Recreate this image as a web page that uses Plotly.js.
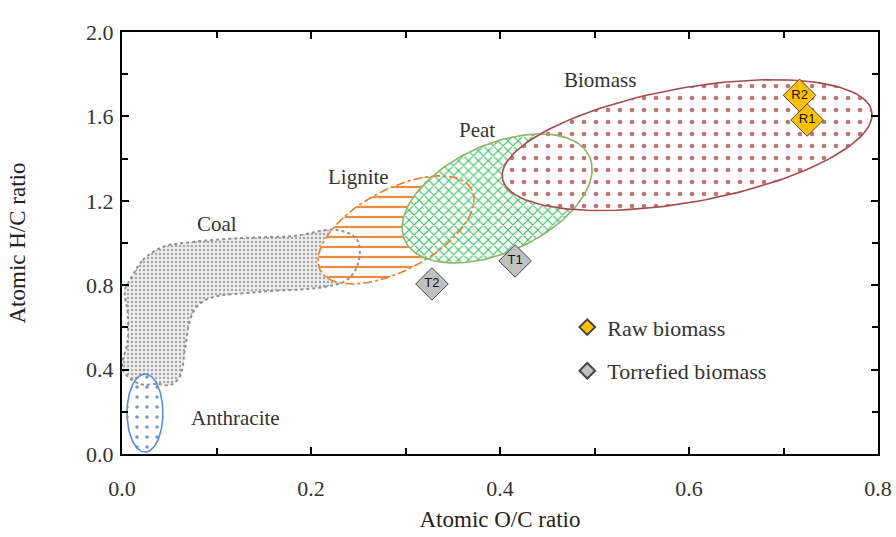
<!DOCTYPE html>
<html>
<head>
<meta charset="utf-8">
<script src="https://cdn.plot.ly/plotly-3.0.1.min.js"></script>
<style>html,body{margin:0;padding:0;background:#fff;}#chart{width:896px;height:537px;}</style>
</head>
<body>
<div id="chart"></div>
<script>
// ---- data ----
const rawLabels = ["R1", "R2"];
const rawOC = [0.725, 0.717];
const rawHC = [1.583, 1.700];
const torLabels = ["T1", "T2"];
const torOC = [0.416, 0.328];
const torHC = [0.915, 0.806];

// elliptical regions: centre (O/C, H/C), semi-axes (in O/C units), tilt (deg)
const ellNames = ["Anthracite", "Lignite", "Peat", "Biomass"];
const ellCX = [0.0243, 0.290, 0.397, 0.598];
const ellCY = [0.194, 1.062, 1.211, 1.464];
const ellA = [0.0413, 0.0908, 0.1073, 0.1986];
const ellB = [0.0190, 0.0429, 0.0570, 0.0604];
const ellTilt = [90, 28.2, 24.4, 10.3];

// coal band outline
const coalOC = [0.0085,0.022,0.043,0.075,0.128,0.181,0.228,0.249,0.250,0.238,0.213,0.146,0.093,0.079,0.072,0.067,0.061,0.051,0.037,0.019,0.001,0.006,0.006,0.003];
const coalHC = [0.825,0.919,0.981,1.005,1.024,1.033,1.062,1.014,0.905,0.825,0.791,0.768,0.739,0.697,0.635,0.507,0.365,0.327,0.332,0.332,0.398,0.540,0.668,0.777];

// region label positions
const labelText = ["Biomass", "Peat", "Lignite", "Coal", "Anthracite"];
const labelOC = [0.506, 0.376, 0.250, 0.1005, 0.1196];
const labelHC = [1.773, 1.536, 1.313, 1.090, 0.171];

// ---- layout geometry ----
const W = 896, H = 537, M = {l:122, r:18, t:32, b:83, pad:0};
const xRange = [0, 0.8], yRange = [0, 2.0];
const plotW = W - M.l - M.r, plotH = H - M.t - M.b;
const aspect = (plotW/(xRange[1]-xRange[0])) / (plotH/(yRange[1]-yRange[0]));

function ellipse(i){
  const xs=[], ys=[], th=ellTilt[i]*Math.PI/180, n=140;
  for(let k=0;k<=n;k++){
    const t=2*Math.PI*k/n;
    const dx=ellA[i]*Math.cos(t)*Math.cos(th)-ellB[i]*Math.sin(t)*Math.sin(th);
    const dy=ellA[i]*Math.cos(t)*Math.sin(th)+ellB[i]*Math.sin(t)*Math.cos(th);
    xs.push(ellCX[i]+dx); ys.push(ellCY[i]+dy*aspect);
  }
  return {x:xs,y:ys};
}

const styles = {
  Coal:{line:"#8f8f8f", dash:"dot", pat:{shape:".", fgcolor:"#a8a8a8", bgcolor:"#efefef", size:4, solidity:0.3}},
  Anthracite:{line:"#5b8fd0", dash:"solid", pat:{shape:".", fgcolor:"#6b9ad6", bgcolor:"#ffffff", size:10, solidity:0.1}},
  Lignite:{line:"#ee7d2a", dash:"dashdot", pat:{shape:"-", fgcolor:"#f08a3c", bgcolor:"#ffffff", size:10, solidity:0.22}},
  Peat:{line:"#8fb466", dash:"solid", pat:{shape:"x", fgcolor:"#2fbf5a", bgcolor:"#ffffff", size:7, solidity:0.28}},
  Biomass:{line:"#a84a4a", dash:"solid", pat:{shape:".", fgcolor:"#c07474", bgcolor:"#ffffff", size:12, solidity:0.12}}
};

const shapesData = {Coal:{x:coalOC.concat([coalOC[0]]), y:coalHC.concat([coalHC[0]])}};
ellNames.forEach((n,i)=>{shapesData[n]=ellipse(i);});
const order = ["Coal","Anthracite","Lignite","Peat","Biomass"];

const traces = [];
order.forEach(n=>{
  const s=styles[n], d=shapesData[n];
  traces.push({x:d.x, y:d.y, mode:"lines", fill:"toself", fillcolor:s.pat.bgcolor,
    fillpattern:s.pat, line:{width:0, shape:n==="Coal"?"spline":"linear", color:s.line},
    hoverinfo:"skip", showlegend:false});
});
order.forEach(n=>{
  const s=styles[n], d=shapesData[n];
  traces.push({x:d.x, y:d.y, mode:"lines", line:{width:n==="Coal"?2:1.6, color:s.line, dash:s.dash, shape:n==="Coal"?"spline":"linear"},
    hoverinfo:"skip", showlegend:false});
});

traces.push({x:rawOC, y:rawHC, mode:"markers", name:"Raw biomass", legendgroup:"r",
  marker:{symbol:"diamond", size:25, color:"#FFC000", line:{color:"#444", width:1}}});
traces.push({x:torOC, y:torHC, mode:"markers", name:"Torrefied biomass", legendgroup:"t",
  marker:{symbol:"diamond", size:25, color:"#C0C0C0", line:{color:"#444", width:1}}});
traces.push({x:rawOC, y:rawHC, mode:"text", text:rawLabels, textfont:{family:"Liberation Sans", size:13, color:"#111"}, showlegend:false, hoverinfo:"skip"});
traces.push({x:torOC, y:torHC, mode:"text", text:torLabels, textfont:{family:"Liberation Sans", size:13, color:"#111"}, showlegend:false, hoverinfo:"skip"});

const fam = "Liberation Serif, Times New Roman, serif";
const annotations = labelText.map((t,i)=>({x:labelOC[i], y:labelHC[i], text:t, showarrow:false,
  xanchor:"center", yanchor:"middle", font:{family:fam, size:21, color:"#333"}}));

const axisCommon = {showgrid:false, zeroline:false, showline:true, linecolor:"#000", linewidth:2,
  mirror:"ticks", ticks:"inside", ticklen:7, tickwidth:2, tickcolor:"#000",
  tickfont:{family:fam, size:22, color:"#333"}, tickformat:".1f"};

const layout = {
  width:W, height:H, margin:M, paper_bgcolor:"#fff", plot_bgcolor:"#fff", font:{family:fam, size:20, color:"#222"},
  xaxis:Object.assign({}, axisCommon, {range:xRange, dtick:0.2, tick0:0, ticklabelstandoff:14,
    minor:{dtick:0.1, ticks:"inside", ticklen:6, tickwidth:2, tickcolor:"#000", showgrid:false},
    title:{text:"Atomic O/C ratio", font:{family:fam, size:23, color:"#222"}, standoff:10}}),
  yaxis:Object.assign({}, axisCommon, {range:yRange, dtick:0.4, tick0:0, ticklabelstandoff:2,
    minor:{dtick:0.2, ticks:"inside", ticklen:6, tickwidth:2, tickcolor:"#000", showgrid:false},
    title:{text:"Atomic H/C ratio", font:{family:fam, size:23, color:"#222"}, standoff:54}}),
  showlegend:true,
  legend:{x:0.589, y:0.35, xanchor:"left", yanchor:"top", bgcolor:"rgba(0,0,0,0)",
    font:{family:fam, size:22, color:"#333"}, tracegroupgap:12, itemsizing:"constant"},
  annotations:annotations
};

Plotly.newPlot("chart", traces, layout, {displayModeBar:false, staticPlot:true});
</script>
</body>
</html>
